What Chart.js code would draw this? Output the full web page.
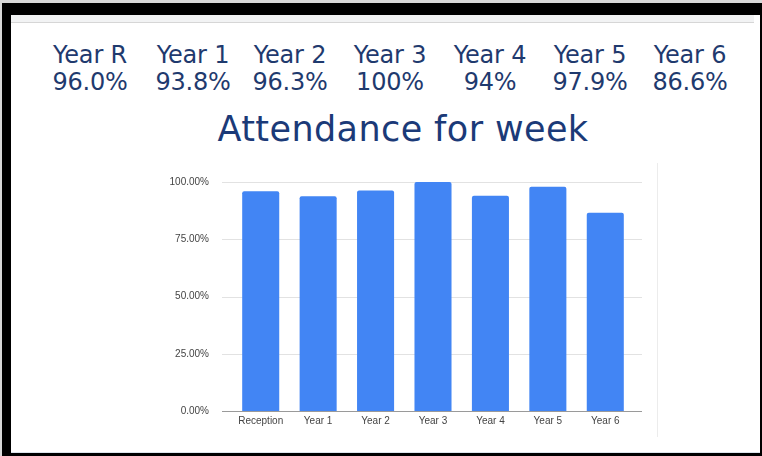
<!DOCTYPE html>
<html>
<head>
<meta charset="utf-8">
<script src="https://cdn.jsdelivr.net/npm/chart.js@4"></script>
<style>
  html, body { margin: 0; padding: 0; }
  body { width: 762px; height: 456px; background: #d8d8d8; position: relative; overflow: hidden; }
  .frame { position: absolute; left: 2px; top: 3px; width: 760px; height: 453px; background: #000; }
  .sheet { position: absolute; left: 11px; top: 15px; width: 749px; height: 437px; background: #fff; border-bottom: 1px solid #dbe4ec; }
  .strip { position: absolute; left: 11px; top: 15px; width: 743px; height: 7px; background: #f2f3f4; border-bottom: 1px solid #d6d6d6; }
  .header { position: absolute; left: 40px; top: 42px; display: flex; font-family: "DejaVu Sans", sans-serif; color: #1f3a6e; }
  .header .col { width: 100px; text-align: center; font-size: 24px; line-height: 27px; letter-spacing: -0.2px; }
  .header .col:nth-child(2) { margin-left: 6px; width: 94px; }
  .title { position: absolute; left: 0; width: 806px; top: 109px; text-align: center; font-family: "DejaVu Sans", sans-serif; font-size: 35px; color: #1b3a78; letter-spacing: 0.4px; }
  .wrap { position: absolute; left: 160px; top: 160px; width: 500px; height: 280px; }
  .vline { position: absolute; left: 657px; top: 163px; width: 1px; height: 274px; background: #ececec; }
</style>
</head>
<body>
<div class="frame"></div>
<div class="sheet"></div>
<div class="strip"></div>
<div class="header" id="header"></div>
<div class="title">Attendance for week</div>
<div class="vline"></div>
<div class="wrap"><canvas id="chart"></canvas></div>
<script>
const categories = ['Reception', 'Year 1', 'Year 2', 'Year 3', 'Year 4', 'Year 5', 'Year 6'];
const attendance = [96.0, 93.8, 96.3, 100, 94, 97.9, 86.6];
const headerYears = ['Year R', 'Year 1', 'Year 2', 'Year 3', 'Year 4', 'Year 5', 'Year 6'];
const headerPct = ['96.0%', '93.8%', '96.3%', '100%', '94%', '97.9%', '86.6%'];
const yTicks = [0, 25, 50, 75, 100];

document.getElementById('header').innerHTML = headerYears.map((y, i) =>
  `<div class="col">${y}<br>${headerPct[i]}</div>`).join('');

// google-sheets style gridlines that run a bit past the bars on both sides
const gridPlugin = {
  id: 'sheetGrid',
  beforeDatasetsDraw(chart) {
    const { ctx, chartArea, scales: { y } } = chart;
    ctx.save();
    ctx.strokeStyle = '#e2e2e2';
    ctx.lineWidth = 1;
    yTicks.filter(v => v > 0).forEach(v => {
      const py = Math.round(y.getPixelForValue(v)) + 0.5;
      ctx.beginPath();
      ctx.moveTo(chartArea.left - 10, py);
      ctx.lineTo(chartArea.right + 8, py);
      ctx.stroke();
    });
    ctx.restore();
  },
  afterDatasetsDraw(chart) {
    const { ctx, chartArea, scales: { y } } = chart;
    const py = Math.round(y.getPixelForValue(0)) + 0.5;
    ctx.save();
    ctx.strokeStyle = '#9a9a9a';
    ctx.lineWidth = 1.2;
    ctx.beginPath();
    ctx.moveTo(chartArea.left - 10, py);
    ctx.lineTo(chartArea.right + 8, py);
    ctx.stroke();
    ctx.restore();
  }
};

new Chart(document.getElementById('chart'), {
  type: 'bar',
  data: {
    labels: categories,
    datasets: [{
      data: attendance,
      backgroundColor: '#4285f4',
      borderRadius: { topLeft: 2, topRight: 2 },
      borderSkipped: 'bottom',
      categoryPercentage: 1,
      barPercentage: 0.645
    }]
  },
  options: {
    responsive: true,
    maintainAspectRatio: false,
    animation: false,
    layout: { padding: { top: 22, right: 26, left: 0, bottom: 0 } },
    plugins: { legend: { display: false }, tooltip: { enabled: false } },
    scales: {
      x: {
        grid: { display: false, drawTicks: false },
        border: { display: false },
        ticks: { color: '#444', font: { family: 'Liberation Sans', size: 10 }, padding: 4, maxRotation: 0 },
        afterFit(scale) { scale.height = 29; }
      },
      y: {
        min: 0,
        max: 100,
        afterBuildTicks(scale) { scale.ticks = yTicks.map(v => ({ value: v })); },
        grid: { display: false },
        border: { display: false },
        ticks: {
          color: '#444',
          font: { family: 'Liberation Sans', size: 10 },
          padding: 15,
          callback: v => v.toFixed(2) + '%'
        },
        afterFit(scale) { scale.width = 72; }
      }
    }
  },
  plugins: [gridPlugin]
});
</script>
</body>
</html>
